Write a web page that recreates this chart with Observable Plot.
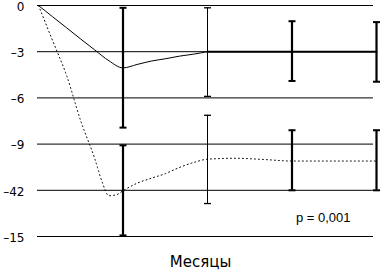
<!DOCTYPE html>
<html>
<head>
<meta charset="utf-8">
<script src="https://cdn.jsdelivr.net/npm/d3@7"></script>
<script src="https://cdn.jsdelivr.net/npm/@observablehq/plot@0.6"></script>
<style>
  html, body { margin: 0; padding: 0; background: white; }
</style>
</head>
<body>
<div id="chart"></div>
<script>
// Y axis ticks and their printed labels (as in the source)
const yTicks = [0, -3, -6, -9, -12, -15];
const yTickLabels = ["0", "–3", "–6", "–9", "–42", "–15"];

// Smooth curves (months, value)
const solidMonths = [0, 0.5, 1, 1.5, 2, 2.5, 3, 3.5, 4, 4.5, 5, 5.5, 6, 7, 8, 9, 10, 11, 12];
const solidValues = [0, -0.73, -1.45, -2.18, -2.89, -3.59, -4.05, -3.83, -3.61, -3.46, -3.29, -3.16, -3.0, -3.0, -3.0, -3.0, -3.0, -3.0, -3.0];

const dottedMonths = [0, 0.5, 1, 1.5, 2, 2.25, 2.5, 2.75, 3, 3.5, 4, 4.5, 5, 5.5, 6, 7, 8, 9, 10, 11, 12];
const dottedValues = [0, -2.28, -4.56, -7.5, -9.96, -11.41, -12.35, -12.3, -12.03, -11.54, -11.22, -10.92, -10.52, -10.2, -9.98, -9.92, -10.0, -10.1, -10.1, -10.1, -10.1];

// Error bars at visits
const barMonths = [3, 6, 9, 12];
const solidLow  = [-7.93, -5.9, -4.9, -4.95];
const solidHigh = [-0.15, -0.15, -1.02, -1.08];
const dottedLow  = [-14.93, -12.86, -12.0, -12.0];
const dottedHigh = [-9.08, -7.13, -8.1, -8.1];

const xLabel = "Месяцы";
const pLabel = "p = 0,001";

const solid = solidMonths.map((m, i) => ({m, v: solidValues[i]}));
const dotted = dottedMonths.map((m, i) => ({m, v: dottedValues[i]}));
const bars = [];
barMonths.forEach((m, i) => {
  bars.push({m, lo: solidLow[i], hi: solidHigh[i]});
  bars.push({m, lo: dottedLow[i], hi: dottedHigh[i]});
});
const caps = bars.flatMap(b => [{m: b.m, v: b.lo}, {m: b.m, v: b.hi}]);

const barWidth = d => (d.m === 6 ? 1 : 2.2);
const capWidth = d => (d.m === 6 ? 1.3 : 2);
const capSymbol = {
  draw(ctx) { ctx.moveTo(-3.5, 0); ctx.lineTo(3.5, 0); }
};

const chart = Plot.plot({
  width: 380,
  height: 272,
  marginLeft: 38,
  marginRight: 4,
  marginTop: 5,
  marginBottom: 36,
  style: {background: "white", fontFamily: "DejaVu Sans", fontSize: "12px", color: "black"},
  x: {domain: [0, 12], axis: null},
  y: {axis: null, domain: [-15, 0]},
  marks: [
    Plot.ruleY(yTicks, {stroke: "black", strokeWidth: 1, insetLeft: -1, insetRight: 3}),
    Plot.text(yTicks, {x: 0, y: d => d, text: d => yTickLabels[yTicks.indexOf(d)], textAnchor: "end", dx: -14, dy: 1.5, fontSize: 12, fill: "black"}),
    Plot.line(solid.filter(d => d.m <= 6), {x: "m", y: "v", curve: "monotone-x", stroke: "black", strokeWidth: 1}),
    Plot.line(solid.filter(d => d.m >= 6), {x: "m", y: "v", curve: "monotone-x", stroke: "black", strokeWidth: 2}),
    Plot.line(dotted, {x: "m", y: "v", curve: "monotone-x", stroke: "black", strokeWidth: 1, strokeDasharray: "1,3"}),
    Plot.ruleX(bars, {x: "m", y1: "lo", y2: "hi", stroke: "black", strokeWidth: barWidth}),
    Plot.dot(caps, {x: "m", y: "v", symbol: capSymbol, fill: "none", stroke: "black", strokeWidth: capWidth}),
    Plot.text([xLabel], {frameAnchor: "bottom", dx: -7, dy: 30, fontSize: 15, letterSpacing: "0.5px", fill: "black"}),
    Plot.text([pLabel], {frameAnchor: "bottom-right", textAnchor: "end", dx: -26, dy: -15, fontSize: 13, fontFamily: "Liberation Sans", fill: "black"})
  ]
});
document.getElementById("chart").appendChild(chart);
</script>
</body>
</html>
